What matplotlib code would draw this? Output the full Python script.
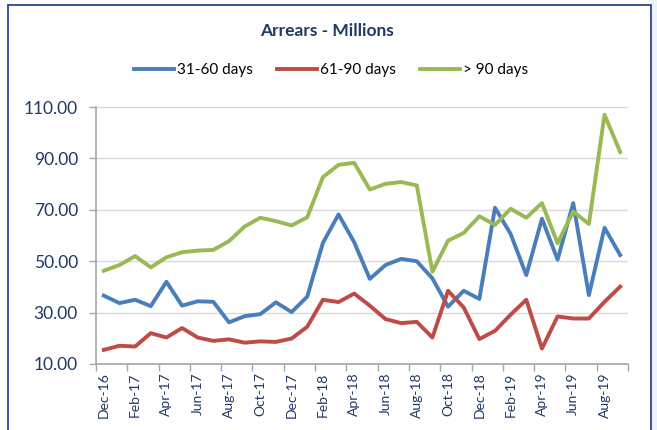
import matplotlib
matplotlib.use('Agg')
import matplotlib.pyplot as plt
from matplotlib.patches import Rectangle
import numpy as np

plt.rcParams['font.family'] = ['Lato', 'DejaVu Sans']

# monthly data Dec-16 .. Sep-19
months = ['Dec-16', 'Jan-17', 'Feb-17', 'Mar-17', 'Apr-17', 'May-17', 'Jun-17', 'Jul-17',
          'Aug-17', 'Sep-17', 'Oct-17', 'Nov-17', 'Dec-17', 'Jan-18', 'Feb-18', 'Mar-18',
          'Apr-18', 'May-18', 'Jun-18', 'Jul-18', 'Aug-18', 'Sep-18', 'Oct-18', 'Nov-18',
          'Dec-18', 'Jan-19', 'Feb-19', 'Mar-19', 'Apr-19', 'May-19', 'Jun-19', 'Jul-19',
          'Aug-19', 'Sep-19']

d31_60 = [36.6, 33.7, 35.0, 32.5, 42.0, 32.7, 34.4, 34.2, 26.2, 28.6, 29.4, 34.0,
          30.2, 36.2, 57.1, 68.2, 57.4, 43.1, 48.5, 50.9, 50.0, 43.3, 32.3, 38.5,
          35.3, 70.8, 60.6, 44.6, 66.5, 50.6, 72.6, 36.8, 63.0, 52.4]
d61_90 = [15.5, 17.1, 16.8, 22.0, 20.3, 24.0, 20.3, 19.0, 19.6, 18.3, 18.8, 18.6,
          19.9, 24.5, 35.0, 34.1, 37.4, 32.7, 27.5, 25.9, 26.4, 20.3, 38.5, 32.0,
          19.7, 22.9, 29.2, 35.0, 16.0, 28.5, 27.7, 27.7, 34.2, 40.1]
d90plus = [46.3, 48.5, 52.0, 47.6, 51.5, 53.5, 54.1, 54.4, 57.8, 63.5, 66.9, 65.6,
           63.9, 67.1, 82.7, 87.5, 88.3, 77.9, 80.1, 80.8, 79.5, 45.9, 58.0, 61.0,
           67.5, 64.1, 70.4, 66.9, 72.6, 57.0, 69.3, 64.5, 107.0, 92.5]

navy = '#1F3864'
x = np.arange(len(months))

fig = plt.figure(figsize=(6.57, 4.30), dpi=100)
fig.patch.set_facecolor('white')

# light background outside the chart frame + frame
fig.patches.append(Rectangle((651/657, 0), 6/657, 1, transform=fig.transFigure,
                             facecolor='#EEF2FA', edgecolor='none', zorder=0))
fig.patches.append(Rectangle((7.5/657, -0.01), 643/657, 1 - 4.5/430 + 0.01,
                             transform=fig.transFigure, facecolor='none',
                             edgecolor='#2B4590', linewidth=1.3, zorder=1))

ax = fig.add_axes([96/657, 1 - 364/430, (628 - 96)/657, (364 - 107)/430])

ax.plot(x, d31_60, color='#4A7EBB', lw=2.8, label='31-60 days', solid_joinstyle='round')
ax.plot(x, d61_90, color='#BE4B48', lw=2.8, label='61-90 days', solid_joinstyle='round')
ax.plot(x, d90plus, color='#98B954', lw=2.8, label='> 90 days', solid_joinstyle='round')

ax.set_xlim(-0.5, len(months) - 0.5)
ax.set_ylim(10, 110)
ax.set_yticks(np.arange(10, 111, 20))
ax.set_yticklabels(['%.2f' % v for v in np.arange(10, 111, 20)])
ax.set_xticks(x[::2])
ax.set_xticklabels(months[::2], rotation=90)
ax.set_xticks(np.arange(-0.5, len(months), 2), minor=True)
ax.tick_params(axis='x', which='major', length=0, pad=6, labelsize=10, labelcolor=navy)
ax.tick_params(axis='x', which='minor', length=5, color='#A6A6A6', width=1)
ax.tick_params(axis='y', length=5, color='#A6A6A6', width=1, pad=8, labelsize=12.5, labelcolor=navy)

ax.grid(axis='y', color='#D9D9D9', lw=1)
ax.set_axisbelow(True)
for s in ['top', 'right']:
    ax.spines[s].set_visible(False)
ax.spines['left'].set_color('#A6A6A6')
ax.spines['bottom'].set_color('#A6A6A6')
ax.spines['left'].set_linewidth(1.2)
ax.spines['bottom'].set_linewidth(1.2)

fig.text(0.498, 1 - 31/430, 'Arrears - Millions', ha='center', va='center',
         fontsize=12.5, fontweight='bold', color=navy)
fig.legend(loc='center', bbox_to_anchor=(331/657, 1 - 70/430), ncol=3, frameon=False,
           fontsize=11, handlelength=2.6, handletextpad=0.2, columnspacing=1.6)

fig.savefig('out.png', dpi=100)
